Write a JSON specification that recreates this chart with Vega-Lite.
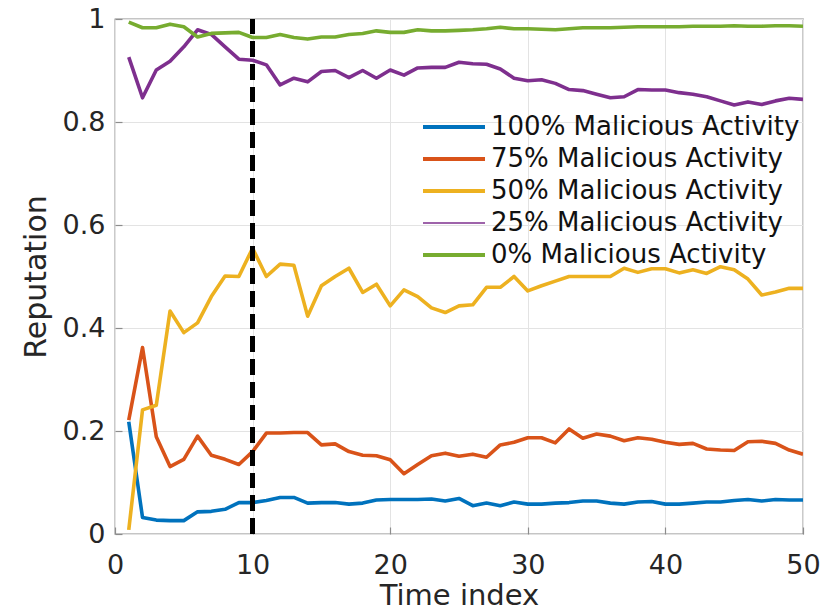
{
"$schema":"https://vega.github.io/schema/vega-lite/v6.json",
"width":688,"height":515,
"autosize":{"type":"none"},
"padding":{"left":115,"top":19,"right":27,"bottom":80},
"background":"white",
"config":{"view":{"stroke":"#8c8c8c","strokeWidth":1.3},
 "font":"DejaVu Sans",
 "axis":{"labelFont":"DejaVu Sans","titleFont":"DejaVu Sans","labelFontSize":27,"titleFontSize":30,"labelColor":"#262626","titleColor":"#262626","titleFontWeight":"normal","gridColor":"#e3e3e3","gridWidth":1,"domain":false,"tickColor":"#8c8c8c","tickSize":-7,"tickWidth":1.2,"labelFlush":false}},
"data":{"values":[
{"t":1,"s":"100% Malicious Activity","v":0.218},{"t":2,"s":"100% Malicious Activity","v":0.032},{"t":3,"s":"100% Malicious Activity","v":0.027},{"t":4,"s":"100% Malicious Activity","v":0.026},{"t":5,"s":"100% Malicious Activity","v":0.026},{"t":6,"s":"100% Malicious Activity","v":0.043},{"t":7,"s":"100% Malicious Activity","v":0.044},{"t":8,"s":"100% Malicious Activity","v":0.048},{"t":9,"s":"100% Malicious Activity","v":0.061},{"t":10,"s":"100% Malicious Activity","v":0.061},
{"t":11,"s":"100% Malicious Activity","v":0.065},{"t":12,"s":"100% Malicious Activity","v":0.071},{"t":13,"s":"100% Malicious Activity","v":0.071},{"t":14,"s":"100% Malicious Activity","v":0.060},{"t":15,"s":"100% Malicious Activity","v":0.061},{"t":16,"s":"100% Malicious Activity","v":0.061},{"t":17,"s":"100% Malicious Activity","v":0.058},{"t":18,"s":"100% Malicious Activity","v":0.060},{"t":19,"s":"100% Malicious Activity","v":0.066},{"t":20,"s":"100% Malicious Activity","v":0.067},
{"t":21,"s":"100% Malicious Activity","v":0.067},{"t":22,"s":"100% Malicious Activity","v":0.067},{"t":23,"s":"100% Malicious Activity","v":0.068},{"t":24,"s":"100% Malicious Activity","v":0.064},{"t":25,"s":"100% Malicious Activity","v":0.069},{"t":26,"s":"100% Malicious Activity","v":0.055},{"t":27,"s":"100% Malicious Activity","v":0.060},{"t":28,"s":"100% Malicious Activity","v":0.055},{"t":29,"s":"100% Malicious Activity","v":0.062},{"t":30,"s":"100% Malicious Activity","v":0.058},
{"t":31,"s":"100% Malicious Activity","v":0.058},{"t":32,"s":"100% Malicious Activity","v":0.060},{"t":33,"s":"100% Malicious Activity","v":0.061},{"t":34,"s":"100% Malicious Activity","v":0.064},{"t":35,"s":"100% Malicious Activity","v":0.064},{"t":36,"s":"100% Malicious Activity","v":0.060},{"t":37,"s":"100% Malicious Activity","v":0.058},{"t":38,"s":"100% Malicious Activity","v":0.062},{"t":39,"s":"100% Malicious Activity","v":0.063},{"t":40,"s":"100% Malicious Activity","v":0.058},
{"t":41,"s":"100% Malicious Activity","v":0.058},{"t":42,"s":"100% Malicious Activity","v":0.060},{"t":43,"s":"100% Malicious Activity","v":0.062},{"t":44,"s":"100% Malicious Activity","v":0.062},{"t":45,"s":"100% Malicious Activity","v":0.065},{"t":46,"s":"100% Malicious Activity","v":0.067},{"t":47,"s":"100% Malicious Activity","v":0.064},{"t":48,"s":"100% Malicious Activity","v":0.067},{"t":49,"s":"100% Malicious Activity","v":0.066},{"t":50,"s":"100% Malicious Activity","v":0.066},
{"t":1,"s":"75% Malicious Activity","v":0.221},{"t":2,"s":"75% Malicious Activity","v":0.362},{"t":3,"s":"75% Malicious Activity","v":0.189},{"t":4,"s":"75% Malicious Activity","v":0.131},{"t":5,"s":"75% Malicious Activity","v":0.145},{"t":6,"s":"75% Malicious Activity","v":0.190},{"t":7,"s":"75% Malicious Activity","v":0.153},{"t":8,"s":"75% Malicious Activity","v":0.145},{"t":9,"s":"75% Malicious Activity","v":0.135},{"t":10,"s":"75% Malicious Activity","v":0.160},
{"t":11,"s":"75% Malicious Activity","v":0.196},{"t":12,"s":"75% Malicious Activity","v":0.196},{"t":13,"s":"75% Malicious Activity","v":0.197},{"t":14,"s":"75% Malicious Activity","v":0.197},{"t":15,"s":"75% Malicious Activity","v":0.173},{"t":16,"s":"75% Malicious Activity","v":0.175},{"t":17,"s":"75% Malicious Activity","v":0.160},{"t":18,"s":"75% Malicious Activity","v":0.153},{"t":19,"s":"75% Malicious Activity","v":0.152},{"t":20,"s":"75% Malicious Activity","v":0.144},
{"t":21,"s":"75% Malicious Activity","v":0.117},{"t":22,"s":"75% Malicious Activity","v":0.135},{"t":23,"s":"75% Malicious Activity","v":0.152},{"t":24,"s":"75% Malicious Activity","v":0.157},{"t":25,"s":"75% Malicious Activity","v":0.151},{"t":26,"s":"75% Malicious Activity","v":0.155},{"t":27,"s":"75% Malicious Activity","v":0.149},{"t":28,"s":"75% Malicious Activity","v":0.173},{"t":29,"s":"75% Malicious Activity","v":0.178},{"t":30,"s":"75% Malicious Activity","v":0.187},
{"t":31,"s":"75% Malicious Activity","v":0.187},{"t":32,"s":"75% Malicious Activity","v":0.177},{"t":33,"s":"75% Malicious Activity","v":0.204},{"t":34,"s":"75% Malicious Activity","v":0.186},{"t":35,"s":"75% Malicious Activity","v":0.194},{"t":36,"s":"75% Malicious Activity","v":0.190},{"t":37,"s":"75% Malicious Activity","v":0.181},{"t":38,"s":"75% Malicious Activity","v":0.187},{"t":39,"s":"75% Malicious Activity","v":0.184},{"t":40,"s":"75% Malicious Activity","v":0.178},
{"t":41,"s":"75% Malicious Activity","v":0.174},{"t":42,"s":"75% Malicious Activity","v":0.176},{"t":43,"s":"75% Malicious Activity","v":0.165},{"t":44,"s":"75% Malicious Activity","v":0.163},{"t":45,"s":"75% Malicious Activity","v":0.162},{"t":46,"s":"75% Malicious Activity","v":0.179},{"t":47,"s":"75% Malicious Activity","v":0.180},{"t":48,"s":"75% Malicious Activity","v":0.176},{"t":49,"s":"75% Malicious Activity","v":0.163},{"t":50,"s":"75% Malicious Activity","v":0.155},
{"t":1,"s":"50% Malicious Activity","v":0.008},{"t":2,"s":"50% Malicious Activity","v":0.241},{"t":3,"s":"50% Malicious Activity","v":0.250},{"t":4,"s":"50% Malicious Activity","v":0.433},{"t":5,"s":"50% Malicious Activity","v":0.391},{"t":6,"s":"50% Malicious Activity","v":0.410},{"t":7,"s":"50% Malicious Activity","v":0.461},{"t":8,"s":"50% Malicious Activity","v":0.501},{"t":9,"s":"50% Malicious Activity","v":0.500},{"t":10,"s":"50% Malicious Activity","v":0.555},
{"t":11,"s":"50% Malicious Activity","v":0.500},{"t":12,"s":"50% Malicious Activity","v":0.524},{"t":13,"s":"50% Malicious Activity","v":0.522},{"t":14,"s":"50% Malicious Activity","v":0.423},{"t":15,"s":"50% Malicious Activity","v":0.482},{"t":16,"s":"50% Malicious Activity","v":0.500},{"t":17,"s":"50% Malicious Activity","v":0.516},{"t":18,"s":"50% Malicious Activity","v":0.469},{"t":19,"s":"50% Malicious Activity","v":0.485},{"t":20,"s":"50% Malicious Activity","v":0.443},
{"t":21,"s":"50% Malicious Activity","v":0.474},{"t":22,"s":"50% Malicious Activity","v":0.461},{"t":23,"s":"50% Malicious Activity","v":0.439},{"t":24,"s":"50% Malicious Activity","v":0.430},{"t":25,"s":"50% Malicious Activity","v":0.443},{"t":26,"s":"50% Malicious Activity","v":0.445},{"t":27,"s":"50% Malicious Activity","v":0.479},{"t":28,"s":"50% Malicious Activity","v":0.479},{"t":29,"s":"50% Malicious Activity","v":0.500},{"t":30,"s":"50% Malicious Activity","v":0.472},
{"t":31,"s":"50% Malicious Activity","v":0.482},{"t":32,"s":"50% Malicious Activity","v":0.491},{"t":33,"s":"50% Malicious Activity","v":0.500},{"t":34,"s":"50% Malicious Activity","v":0.500},{"t":35,"s":"50% Malicious Activity","v":0.500},{"t":36,"s":"50% Malicious Activity","v":0.500},{"t":37,"s":"50% Malicious Activity","v":0.516},{"t":38,"s":"50% Malicious Activity","v":0.508},{"t":39,"s":"50% Malicious Activity","v":0.515},{"t":40,"s":"50% Malicious Activity","v":0.515},
{"t":41,"s":"50% Malicious Activity","v":0.507},{"t":42,"s":"50% Malicious Activity","v":0.513},{"t":43,"s":"50% Malicious Activity","v":0.506},{"t":44,"s":"50% Malicious Activity","v":0.519},{"t":45,"s":"50% Malicious Activity","v":0.513},{"t":46,"s":"50% Malicious Activity","v":0.495},{"t":47,"s":"50% Malicious Activity","v":0.464},{"t":48,"s":"50% Malicious Activity","v":0.470},{"t":49,"s":"50% Malicious Activity","v":0.477},{"t":50,"s":"50% Malicious Activity","v":0.477},
{"t":1,"s":"25% Malicious Activity","v":0.926},{"t":2,"s":"25% Malicious Activity","v":0.847},{"t":3,"s":"25% Malicious Activity","v":0.901},{"t":4,"s":"25% Malicious Activity","v":0.918},{"t":5,"s":"25% Malicious Activity","v":0.946},{"t":6,"s":"25% Malicious Activity","v":0.979},{"t":7,"s":"25% Malicious Activity","v":0.970},{"t":8,"s":"25% Malicious Activity","v":0.946},{"t":9,"s":"25% Malicious Activity","v":0.922},{"t":10,"s":"25% Malicious Activity","v":0.920},
{"t":11,"s":"25% Malicious Activity","v":0.911},{"t":12,"s":"25% Malicious Activity","v":0.872},{"t":13,"s":"25% Malicious Activity","v":0.885},{"t":14,"s":"25% Malicious Activity","v":0.878},{"t":15,"s":"25% Malicious Activity","v":0.898},{"t":16,"s":"25% Malicious Activity","v":0.900},{"t":17,"s":"25% Malicious Activity","v":0.886},{"t":18,"s":"25% Malicious Activity","v":0.900},{"t":19,"s":"25% Malicious Activity","v":0.885},{"t":20,"s":"25% Malicious Activity","v":0.901},
{"t":21,"s":"25% Malicious Activity","v":0.891},{"t":22,"s":"25% Malicious Activity","v":0.905},{"t":23,"s":"25% Malicious Activity","v":0.906},{"t":24,"s":"25% Malicious Activity","v":0.906},{"t":25,"s":"25% Malicious Activity","v":0.916},{"t":26,"s":"25% Malicious Activity","v":0.913},{"t":27,"s":"25% Malicious Activity","v":0.912},{"t":28,"s":"25% Malicious Activity","v":0.903},{"t":29,"s":"25% Malicious Activity","v":0.885},{"t":30,"s":"25% Malicious Activity","v":0.880},
{"t":31,"s":"25% Malicious Activity","v":0.882},{"t":32,"s":"25% Malicious Activity","v":0.875},{"t":33,"s":"25% Malicious Activity","v":0.863},{"t":34,"s":"25% Malicious Activity","v":0.861},{"t":35,"s":"25% Malicious Activity","v":0.854},{"t":36,"s":"25% Malicious Activity","v":0.847},{"t":37,"s":"25% Malicious Activity","v":0.849},{"t":38,"s":"25% Malicious Activity","v":0.863},{"t":39,"s":"25% Malicious Activity","v":0.862},{"t":40,"s":"25% Malicious Activity","v":0.862},
{"t":41,"s":"25% Malicious Activity","v":0.857},{"t":42,"s":"25% Malicious Activity","v":0.854},{"t":43,"s":"25% Malicious Activity","v":0.849},{"t":44,"s":"25% Malicious Activity","v":0.841},{"t":45,"s":"25% Malicious Activity","v":0.833},{"t":46,"s":"25% Malicious Activity","v":0.839},{"t":47,"s":"25% Malicious Activity","v":0.834},{"t":48,"s":"25% Malicious Activity","v":0.841},{"t":49,"s":"25% Malicious Activity","v":0.846},{"t":50,"s":"25% Malicious Activity","v":0.844},
{"t":1,"s":"0% Malicious Activity","v":0.994},{"t":2,"s":"0% Malicious Activity","v":0.983},{"t":3,"s":"0% Malicious Activity","v":0.983},{"t":4,"s":"0% Malicious Activity","v":0.990},{"t":5,"s":"0% Malicious Activity","v":0.985},{"t":6,"s":"0% Malicious Activity","v":0.965},{"t":7,"s":"0% Malicious Activity","v":0.972},{"t":8,"s":"0% Malicious Activity","v":0.973},{"t":9,"s":"0% Malicious Activity","v":0.974},{"t":10,"s":"0% Malicious Activity","v":0.964},
{"t":11,"s":"0% Malicious Activity","v":0.964},{"t":12,"s":"0% Malicious Activity","v":0.970},{"t":13,"s":"0% Malicious Activity","v":0.964},{"t":14,"s":"0% Malicious Activity","v":0.961},{"t":15,"s":"0% Malicious Activity","v":0.965},{"t":16,"s":"0% Malicious Activity","v":0.965},{"t":17,"s":"0% Malicious Activity","v":0.970},{"t":18,"s":"0% Malicious Activity","v":0.972},{"t":19,"s":"0% Malicious Activity","v":0.977},{"t":20,"s":"0% Malicious Activity","v":0.974},
{"t":21,"s":"0% Malicious Activity","v":0.974},{"t":22,"s":"0% Malicious Activity","v":0.979},{"t":23,"s":"0% Malicious Activity","v":0.977},{"t":24,"s":"0% Malicious Activity","v":0.977},{"t":25,"s":"0% Malicious Activity","v":0.978},{"t":26,"s":"0% Malicious Activity","v":0.979},{"t":27,"s":"0% Malicious Activity","v":0.981},{"t":28,"s":"0% Malicious Activity","v":0.984},{"t":29,"s":"0% Malicious Activity","v":0.981},{"t":30,"s":"0% Malicious Activity","v":0.981},
{"t":31,"s":"0% Malicious Activity","v":0.980},{"t":32,"s":"0% Malicious Activity","v":0.979},{"t":33,"s":"0% Malicious Activity","v":0.981},{"t":34,"s":"0% Malicious Activity","v":0.983},{"t":35,"s":"0% Malicious Activity","v":0.983},{"t":36,"s":"0% Malicious Activity","v":0.983},{"t":37,"s":"0% Malicious Activity","v":0.984},{"t":38,"s":"0% Malicious Activity","v":0.985},{"t":39,"s":"0% Malicious Activity","v":0.985},{"t":40,"s":"0% Malicious Activity","v":0.985},
{"t":41,"s":"0% Malicious Activity","v":0.985},{"t":42,"s":"0% Malicious Activity","v":0.986},{"t":43,"s":"0% Malicious Activity","v":0.986},{"t":44,"s":"0% Malicious Activity","v":0.986},{"t":45,"s":"0% Malicious Activity","v":0.987},{"t":46,"s":"0% Malicious Activity","v":0.986},{"t":47,"s":"0% Malicious Activity","v":0.986},{"t":48,"s":"0% Malicious Activity","v":0.987},{"t":49,"s":"0% Malicious Activity","v":0.987},{"t":50,"s":"0% Malicious Activity","v":0.986}
]},
"layer":[
{"mark":{"type":"line","strokeWidth":3.6,"strokeJoin":"round","clip":true},
 "encoding":{
  "x":{"field":"t","type":"quantitative","scale":{"domain":[0,50],"nice":false},"axis":{"title":"Time index","titleFontSize":29,"values":[0,10,20,30,40,50],"labelPadding":25,"titlePadding":3}},
  "y":{"field":"v","type":"quantitative","scale":{"domain":[0,1],"nice":false},"axis":{"title":"Reputation","values":[0,0.2,0.4,0.6,0.8,1],"format":"~g","labelPadding":17,"titlePadding":11}},
  "color":{"field":"s","type":"nominal","sort":null,
   "scale":{"domain":["100% Malicious Activity","75% Malicious Activity","50% Malicious Activity","25% Malicious Activity","0% Malicious Activity"],"range":["#0072BD","#D95319","#EDB120","#7E2F8E","#77AC30"]},
   "legend":{"orient":"none","legendX":326,"legendY":95,"title":null,"symbolType":"M-3.1,0H3.1","symbolSize":400,"symbolStrokeWidth":4,"labelFontSize":26,"labelFont":"DejaVu Sans","labelColor":"#111111","labelOffset":24,"rowPadding":6,"padding":0,"labelLimit":500,
    "encode":{"symbols":{"update":{"strokeWidth":{"signal":"datum.value === '25% Malicious Activity' ? 1.5 : 4"}}}}}
  }
 }},
{"mark":{"type":"rule","color":"#000000","strokeWidth":4,"strokeDash":[15,7.7]},
 "encoding":{"x":{"datum":10,"type":"quantitative"}}}
]
}
